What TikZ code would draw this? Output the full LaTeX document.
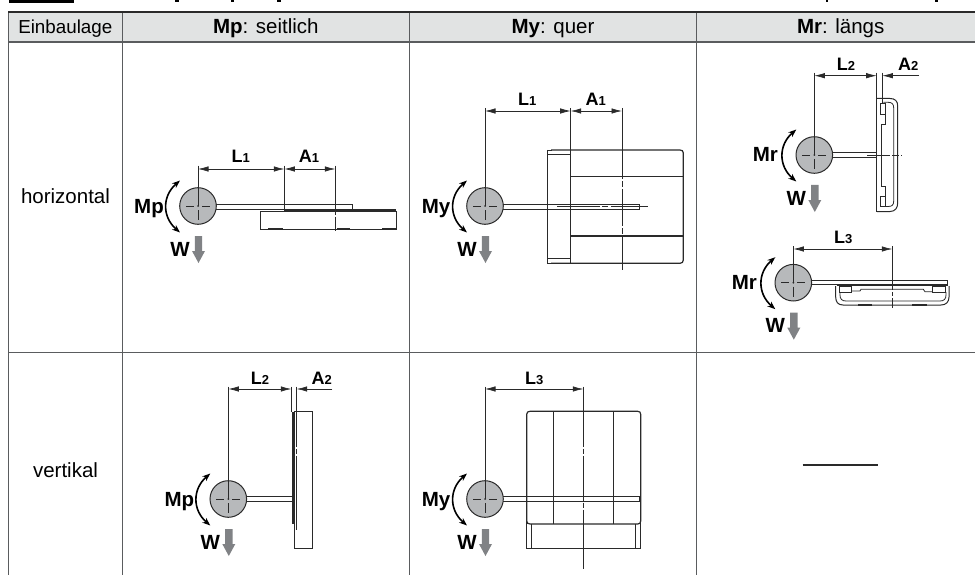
\documentclass[tikz,border=0pt]{standalone}
\usepackage{fontspec}
\setmainfont{Liberation Sans}
\usetikzlibrary{arrows.meta}

\definecolor{headgray}{HTML}{E1E3E3}
\definecolor{gridgray}{HTML}{5A5C5E}
\definecolor{rotorgray}{HTML}{B7B9BB}
\definecolor{weightgray}{HTML}{808285}
\definecolor{inkdark}{HTML}{2A2A2A}

\tikzset{
    gridline/.style={draw=gridgray, line width=1.5pt},
    thinline/.style={draw=inkdark, line width=0.8pt},
    partline/.style={draw=inkdark, line width=1pt},
    boldline/.style={draw=inkdark, line width=1.6pt},
    dimline/.style={draw=inkdark, line width=0.7pt},
    dimtip/.style={-{Latex[length=10.5pt,width=5.5pt]}},
    headtext/.style={anchor=base, inner sep=0pt, font=\fontsize{20.5}{22}\selectfont},
    dimtext/.style={anchor=base, inner sep=0pt, font=\fontsize{18}{18}\selectfont\bfseries},
    loadtext/.style={anchor=base, inner sep=0pt, font=\fontsize{20.5}{20}\selectfont\bfseries}
}

% dimension label with small index
\newcommand{\dimlabel}[2]{#1{\fontsize{13}{13}\selectfont #2}}

% rotor with moment arrow and weight arrow: name, x, y, moment label
\newcommand{\rotor}[4]{
    \begin{scope}[shift={(#2,#3)}]
        \draw[partline, fill=rotorgray] (0,0) circle (18.3);
        \draw[thinline] (-12,0) -- (-4,0) (4,0) -- (12,0) (0,4) -- (0,14);
        \fill[inkdark] (0,0) circle (1);
        \draw[line width=1.6pt, {Stealth[length=8pt,width=6pt]}-{Stealth[length=8pt,width=6pt]}]
            (-18,-25.5) .. controls (-36,-10) and (-36,11) .. (-18,26.5);
        \node[loadtext] (#1mom) at (-49,7) {#4};
        \node[loadtext] (#1w) at (-18,50) {W};
        \fill[weightgray] (-3.2,30) -- (4.2,30) -- (4.2,45) -- (7,45) -- (0.5,57)
            -- (-6,45) -- (-3.2,45) -- cycle;
    \end{scope}
}

\begin{document}
\begin{tikzpicture}[x=1pt, y=-1pt]
    \useasboundingbox (0,0) rectangle (975,575);

    % Remains of the line above the table
    \fill[black] (9,0) rectangle (74,3);
    \fill[black] (175,0) rectangle (179,2.5);
    \fill[black] (231,0) rectangle (233.5,2.5);
    \fill[black] (277,0) rectangle (281,2.5);
    \fill[black] (826.3,0) rectangle (827.8,2.5);
    \fill[black] (935,0) rectangle (937.5,2.5);

    % Table
    \fill[headgray] (8.7,12) rectangle (975,42);
    \draw[gridline] (8.7,575) -- (8.7,12);
    \draw[gridline] (122.3,575) -- (122.3,12);
    \draw[gridline] (409.3,575) -- (409.3,12);
    \draw[gridline] (696.7,575) -- (696.7,12);
    \draw[gridline] (8.7,42) -- (975,42);
    \draw[gridline] (8.7,352.3) -- (975,352.3);
    \draw[draw=inkdark, line width=2.2pt] (8,12) -- (975,12);

    % Table texts
    \node[headtext, font=\fontsize{18.8}{20}\selectfont] (einbau) at (65.3,33.3) {Einbaulage};
    \node[headtext] (seitlich) at (265.8,33.3) {\textbf{Mp}: seitlich};
    \node[headtext] (quer) at (553,33.3) {\textbf{My}: quer};
    \node[headtext] (laengs) at (840.7,33.3) {\textbf{Mr}: längs};
    \node[headtext] (horizontal) at (65.5,204) {horizontal};
    \node[headtext] (vertikal) at (65.5,477) {vertikal};

    % Draw Mp horizontal
    \rotor{mph}{198}{206}{Mp}
    \draw[thinline] (198,165.7) -- (198,206);
    \draw[thinline] (216,204) -- (352.7,204) -- (352.7,209) -- (216,209);
    \draw[boldline] (284.3,210) -- (395.7,210);
    \draw[partline] (260.7,211) rectangle (396.7,229);
    \draw[boldline] (268,229) -- (283,229) (337,229) -- (350,229) (382,229) -- (397,229);
    \draw[partline] (284.3,165.7) -- (284.3,209);
    \draw[thinline, dash pattern=on 49pt off 2pt on 14pt off 2pt] (335.3,165.7) -- (335.3,232);
    \draw[dimline, dimtip] (240,169) -- (198,169);
    \draw[dimline, dimtip] (240,169) -- (284.3,169);
    \draw[dimline, dimtip] (309,169) -- (284.3,169);
    \draw[dimline, dimtip] (309,169) -- (335.3,169);
    \node[dimtext] (lonea) at (240.7,162.7) {\dimlabel{L}{1}};
    \node[dimtext] (aonea) at (309,162.7) {\dimlabel{A}{1}};

    % Draw My horizontal
    \rotor{myh}{485}{206}{My}
    \draw[thinline] (485,108) -- (485,206);
    \draw[partline] (503,204) -- (639.7,204) -- (639.7,209) -- (503,209);
    \draw[boldline, line width=1.2pt] (551,150) -- (680,150)
        .. controls (682,150) and (683.3,151) .. (683.3,153) -- (683.3,260)
        .. controls (683.3,262) and (682,263.3) .. (680,263.3) -- (551,263.3);
    \draw[thinline] (547.3,150) -- (547.3,263.3) -- (552,263.3) (547.3,150) -- (552,150);
    \draw[thinline] (547.3,154) -- (570.7,154) (547.3,258.3) -- (570.7,258.3);
    \draw[boldline, line width=1.2pt] (570.7,108) -- (570.7,176.7) -- (683.3,176.7);
    \draw[partline] (570.7,176.7) -- (570.7,263.3);
    \draw[boldline, line width=1.2pt] (570.7,236) -- (683.3,236);
    \draw[thinline, dash pattern=on 43pt off 2pt on 6pt off 3pt on 40pt] (557,206.5) -- (648,206.5);
    \draw[thinline, dash pattern=on 71pt off 2pt on 6pt off 2pt on 37pt off 2pt on 6pt off 2pt on 40pt] (622,108) -- (622,270);
    \draw[dimline, dimtip] (527,111) -- (485,111);
    \draw[dimline, dimtip] (527,111) -- (570.7,111);
    \draw[dimline, dimtip] (596,111) -- (570.7,111);
    \draw[dimline, dimtip] (596,111) -- (622,111);
    \node[dimtext] (loneb) at (527.3,105.7) {\dimlabel{L}{1}};
    \node[dimtext] (aoneb) at (595.7,105.7) {\dimlabel{A}{1}};

    % Draw Mr horizontal, upright plate
    \rotor{mra}{814.3}{155}{Mr}
    \draw[thinline] (814.3,72.7) -- (814.3,155);
    \draw[partline] (832.5,152.7) -- (877,152.7) (832.5,157.3) -- (877,157.3);
    \draw[boldline, line width=1.2pt] (876.7,72.7) -- (876.7,211.5);
    \draw[thinline] (882.3,72.7) -- (882.3,103);
    \draw[partline] (877,98.5) -- (890,98.5)
        .. controls (895,98.5) and (897.7,101) .. (897.7,106) -- (897.7,203)
        .. controls (897.7,208) and (895,211.5) .. (890,211.5) -- (877,211.5);
    \draw[thinline] (883.3,102.3) -- (888,102.3)
        .. controls (892,102.3) and (893.7,104) .. (893.7,108) -- (893.7,201)
        .. controls (893.7,205) and (892,206.5) .. (888,206.5) -- (883.3,206.5);
    \draw[thinline] (880.7,103.3) rectangle (885,114);
    \draw[thinline] (880.7,196) rectangle (885,206.5);
    \draw[thinline] (885,114) -- (885,124) -- (881.7,124) -- (881.7,186) -- (885,186) -- (885,196);
    \draw[thinline] (867,155) -- (877,155);
    \draw[thinline, dash pattern=on 13pt off 2pt on 7pt off 2pt on 13pt] (877,155) -- (901.7,155);
    \draw[dimline, dimtip] (846,75.7) -- (814.3,75.7);
    \draw[dimline, dimtip] (846,75.7) -- (876.7,75.7);
    \draw[dimline, dimtip] (919,75.7) -- (882.3,75.7);
    \node[dimtext] (ltwoa) at (846,70.7) {\dimlabel{L}{2}};
    \node[dimtext] (atwoa) at (908.3,70.7) {\dimlabel{A}{2}};

    % Draw Mr horizontal, flat plate
    \rotor{mrb}{793.3}{282.7}{Mr}
    \draw[thinline] (793.3,246) -- (793.3,282.7);
    \draw[partline] (811.5,280) -- (947.7,280) -- (947.7,284.3) -- (811.5,284.3);
    \draw[boldline, line width=1.2pt] (836.7,285.3) -- (947.7,285.3);
    \draw[partline] (835.7,286) -- (835.7,297)
        .. controls (835.7,302) and (838,305) .. (843,305) -- (941,305)
        .. controls (946,305) and (949,302) .. (949,297) -- (949,286);
    \draw[thinline] (840,292) -- (840,295)
        .. controls (840,299) and (842,301) .. (846,301) -- (940,301)
        .. controls (944,301) and (946,299) .. (946,295) -- (946,292);
    \draw[thinline] (839.3,286.7) rectangle (851.7,292.7);
    \draw[thinline] (932.3,286.7) rectangle (945,292.7);
    \draw[thinline] (851.7,291) -- (860,291) -- (861,289.3) -- (923.3,289.3) -- (925,291.7) -- (932.3,291.7);
    \draw[boldline] (858,305) -- (872,305) (912,305) -- (927,305);
    \draw[thinline, dash pattern=on 44pt off 2pt on 4pt off 2pt on 20pt] (892.3,246) -- (892.3,308.3);
    \draw[dimline, dimtip] (843,249) -- (793.3,249);
    \draw[dimline, dimtip] (843,249) -- (892.3,249);
    \node[dimtext] (lthreea) at (843.3,243.7) {\dimlabel{L}{3}};

    % Draw Mp vertical
    \rotor{mpv}{228.3}{499}{Mp}
    \draw[thinline] (228.3,386.7) -- (228.3,499);
    \draw[partline] (246.5,496.7) -- (291.5,496.7) (246.5,501.3) -- (291.5,501.3);
    \draw[thinline] (291.3,386.7) -- (291.3,412.3);
    \draw[draw=inkdark, line width=2.4pt] (293,412.3) -- (293,524.3);
    \draw[partline] (294.3,411.3) rectangle (312.3,548);
    \draw[boldline] (312.3,426) -- (312.3,440) (312.3,458) -- (312.3,475) (312.3,525) -- (312.3,540);
    \draw[thinline, dash pattern=on 60pt off 2pt on 5pt off 2pt on 80pt] (296.7,386.7) -- (296.7,530);
    \draw[dimline, dimtip] (260,389) -- (228.3,389);
    \draw[dimline, dimtip] (260,389) -- (291.3,389);
    \draw[dimline, dimtip] (332.3,389) -- (296.7,389);
    \node[dimtext] (ltwob) at (260,384) {\dimlabel{L}{2}};
    \node[dimtext] (atwob) at (321.7,384) {\dimlabel{A}{2}};

    % Draw My vertical
    \rotor{myv}{485}{499}{My}
    \draw[thinline] (485,386.7) -- (485,499);
    \draw[partline] (503,496.7) -- (639.7,496.7) -- (639.7,501.3) -- (503,501.3);
    \draw[boldline, line width=1.2pt] (530,411.3) -- (637.7,411.3)
        .. controls (639.7,411.3) and (640.7,412.3) .. (640.7,414.3) -- (640.7,521)
        .. controls (640.7,523) and (639.7,524) .. (637.7,524) -- (530,524)
        .. controls (528,524) and (526.7,523) .. (526.7,521) -- (526.7,414.3)
        .. controls (526.7,412.3) and (528,411.3) .. (530,411.3) -- cycle;
    \draw[thinline] (526.7,521) -- (526.7,548.3) -- (640.7,548.3) -- (640.7,521);
    \draw[thinline] (531.7,524) -- (531.7,548.3) (635.7,524) -- (635.7,548.3);
    \draw[thinline] (553.7,411.3) -- (553.7,524) (613.3,411.3) -- (613.3,524);
    \draw[thinline, dash pattern=on 60pt off 2pt on 5pt off 2pt on 45pt off 2pt on 5pt off 2pt on 70pt] (583.3,386.7) -- (583.3,569.3);
    \draw[dimline, dimtip] (534,389) -- (485,389);
    \draw[dimline, dimtip] (534,389) -- (583.3,389);
    \node[dimtext] (lthreeb) at (534.3,384) {\dimlabel{L}{3}};

    % Empty cell
    \draw[boldline] (802.7,465) -- (878.3,465);

\end{tikzpicture}
\end{document}
